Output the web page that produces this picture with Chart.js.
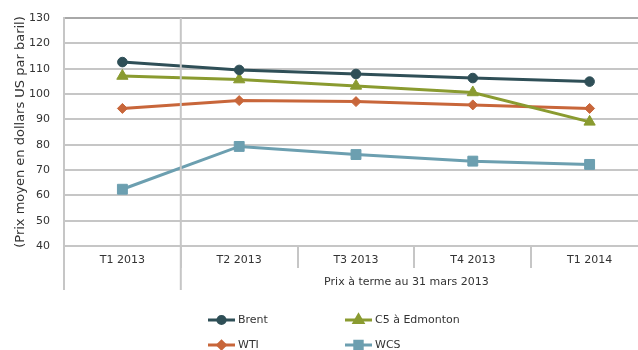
<!DOCTYPE html>
<html>
<head>
<meta charset="utf-8">
<script src="https://cdn.jsdelivr.net/npm/chart.js@4.4.0/dist/chart.umd.min.js"></script>
<style>
    html, body { margin: 0; padding: 0; background: #fff; overflow: hidden; }
    #wrap { width: 656px; height: 350px; }
</style>
</head>
<body>
<div id="wrap"><canvas id="priceChart" width="656" height="350"></canvas></div>
<script>
var quarters = ['T1 2013', 'T2 2013', 'T3 2013', 'T4 2013', 'T1 2014'];
var brent = [112.6, 109.5, 107.9, 106.3, 104.9];
var c5 = [107.1, 105.7, 103.2, 100.6, 89.0];
var wti = [94.3, 97.4, 97.0, 95.7, 94.3];
var wcs = [62.4, 79.3, 76.1, 73.5, 72.2];
var yTicks = [40, 50, 60, 70, 80, 90, 100, 110, 120, 130];
var yTitle = '(Prix moyen en dollars US par baril)';
var forecastLabel = 'Prix à terme au 31 mars 2013';

var fontFamily = '"DejaVu Sans", Verdana, sans-serif';
var gridColor = '#c6c6c6';
var textColor = '#333';

Chart.defaults.font.family = fontFamily;
Chart.defaults.font.size = 11;
Chart.defaults.color = textColor;

function series(label, data, color, style, radius) {
    return {
        label: label,
        data: data,
        borderColor: color,
        backgroundColor: color,
        borderWidth: 3,
        pointStyle: style,
        pointRadius: radius,
        pointBackgroundColor: color,
        pointBorderColor: color,
        pointBorderWidth: 1,
        tension: 0,
        fill: false
    };
}

// separator, bottom label and a 2x2 legend
var extras = {
    id: 'extras',
    afterDraw: function (chart) {
        var c = chart.ctx, area = chart.chartArea, x = chart.scales.x;
        var sep = (x.getPixelForValue(0) + x.getPixelForValue(1)) / 2;
        var low = 290;
        c.save();
        c.strokeStyle = gridColor;
        c.lineWidth = 2;
        c.beginPath();
        c.moveTo(sep, area.top);
        c.lineTo(sep, low);
        c.moveTo(area.left, area.bottom);
        c.lineTo(area.left, low);
        c.stroke();

        c.fillStyle = textColor;
        c.font = '11px ' + fontFamily;
        c.textAlign = 'center';
        c.textBaseline = 'middle';
        c.fillText(forecastLabel, (sep + 654) / 2 - 11, 282);

        var cols = [208, 345], rows = [320, 345];
        c.textAlign = 'left';
        chart.data.datasets.forEach(function (ds, i) {
            var lx = cols[i % 2], ly = rows[Math.floor(i / 2)];
            c.strokeStyle = ds.borderColor;
            c.lineWidth = 3;
            c.beginPath();
            c.moveTo(lx, ly);
            c.lineTo(lx + 27, ly);
            c.stroke();
            c.fillStyle = ds.borderColor;
            c.strokeStyle = ds.borderColor;
            Chart.helpers.drawPoint(c, {
                pointStyle: ds.pointStyle,
                radius: ds.pointRadius * 0.75,
                rotation: 0,
                borderWidth: 1
            }, lx + 13.5, ly);
            c.fillStyle = textColor;
            c.fillText(ds.label, lx + 30, ly);
        });
        c.restore();
    }
};

var ctx = document.getElementById('priceChart').getContext('2d');
var priceChart = new Chart(ctx, {
    type: 'line',
    data: {
        labels: quarters,
        datasets: [
            series('Brent', brent, '#2f4f57', 'circle', 4.8),
            series('C5 à Edmonton', c5, '#8a9b30', 'triangle', 6.5),
            series('WTI', wti, '#c8663a', 'rectRot', 5),
            series('WCS', wcs, '#6c9fb0', 'rect', 7)
        ]
    },
    plugins: [extras],
    options: {
        responsive: false,
        animation: false,
        layout: { padding: { top: 18, right: 2, bottom: 82, left: 0 } },
        plugins: {
            legend: { display: false },
            tooltip: { enabled: false }
        },
        scales: {
            x: {
                offset: true,
                grid: {
                    offset: true,
                    drawOnChartArea: false,
                    drawTicks: true,
                    tickLength: 22,
                    color: gridColor,
                    lineWidth: 2
                },
                border: { display: true, color: gridColor, width: 2 },
                ticks: { padding: -14, color: textColor, font: { size: 11 } },
                afterFit: function (scale) { scale.height = 22; }
            },
            y: {
                min: 40,
                max: 130,
                afterBuildTicks: function (scale) {
                    scale.ticks = yTicks.map(function (v) { return { value: v }; });
                },
                grid: {
                    color: function (c) { return c.tick && c.tick.value === 130 ? '#a8a8a8' : gridColor; },
                    lineWidth: 2,
                    drawTicks: false
                },
                border: { display: true, color: gridColor, width: 2 },
                ticks: { padding: 14, color: textColor, font: { size: 11 } },
                title: {
                    display: true,
                    text: yTitle,
                    color: textColor,
                    font: { size: 13 },
                    padding: { top: 13, bottom: 0 }
                },
                afterFit: function (scale) {
                    scale.width = 64;
                    // the big tick padding should not push the plot down
                    scale.paddingTop = 0;
                    scale.paddingBottom = 0;
                }
            }
        }
    }
});
</script>
</body>
</html>
